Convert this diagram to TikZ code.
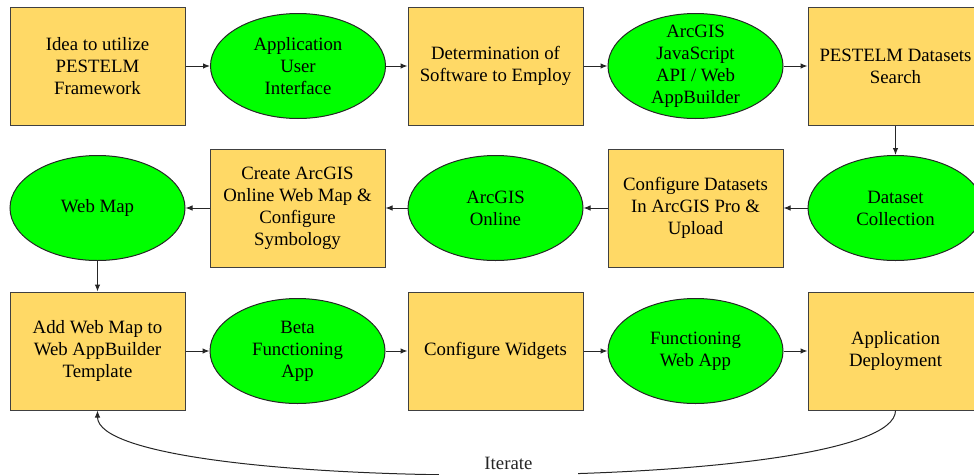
\documentclass[tikz,border=0pt]{standalone}
\usepackage{fontspec}
\setmainfont{Liberation Serif}
\usetikzlibrary{shapes.geometric, arrows.meta}

\definecolor{boxyellow}{HTML}{FFD966}
\definecolor{ellgreen}{HTML}{00FF00}
\newcommand{\flowfont}{\fontsize{18.8}{22}\selectfont}

\tikzset{
    stepbox/.style={draw=black!75, fill=boxyellow, line width=1pt,
        minimum width=175pt, minimum height=118pt, inner sep=0pt,
        align=center, font=\flowfont},
    stepell/.style={ellipse, draw=black!85, fill=ellgreen, line width=1pt,
        minimum width=175pt, minimum height=105pt, inner sep=0pt},
    elltext/.style={align=center, font=\flowfont, inner sep=0pt},
    flow/.style={->, line width=1pt, black!85}
}

\begin{document}
\begin{tikzpicture}[x=1pt, y=-1pt, >={Latex[length=7pt, width=5.5pt]}]
    % Page size
    \useasboundingbox (0,0) rectangle (974,474);
    \clip (0,0) rectangle (974,474);
    % First row
    \node[stepbox] (idea) at (97.5,66) {Idea to utilize\\PESTELM\\Framework};
    \node[stepell, label={[elltext]center:Application\\User\\Interface}] (ui) at (298,66) {};
    \node[stepbox] (software) at (495.5,66) {Determination of\\Software to Employ};
    \node[stepell, label={[elltext]center:ArcGIS\\JavaScript\\API / Web\\AppBuilder}] (api) at (695.5,66) {};
    \node[stepbox] (search) at (895.5,66) {PESTELM Datasets\\Search};
    % Second row
    \node[stepell, label={[elltext]center:Dataset\\Collection}] (collect) at (895.5,208) {};
    \node[stepbox] (configure) at (695.5,208) {Configure Datasets\\In ArcGIS Pro \&\\Upload};
    \node[stepell, label={[elltext]center:ArcGIS\\Online}] (online) at (495.5,208) {};
    \node[stepbox] (create) at (297.5,208) {Create ArcGIS\\Online Web Map \&\\Configure\\Symbology};
    \node[stepell, label={[elltext]center:Web Map}] (webmap) at (97.5,208) {};
    % Third row
    \node[stepbox] (addmap) at (97.5,351) {Add Web Map to\\Web AppBuilder\\Template};
    \node[stepell, label={[elltext]center:Beta\\Functioning\\App}] (beta) at (297.5,351) {};
    \node[stepbox] (widgets) at (495.5,351) {Configure Widgets};
    \node[stepell, label={[elltext]center:Functioning\\Web App}] (webapp) at (695.5,351) {};
    \node[stepbox] (deploy) at (895.5,351) {Application\\Deployment};
    % Arrows
    \draw[flow] (idea) -- (ui);
    \draw[flow] (ui) -- (software);
    \draw[flow] (software) -- (api);
    \draw[flow] (api) -- (search);
    \draw[flow] (search) -- (collect);
    \draw[flow] (collect) -- (configure);
    \draw[flow] (configure) -- (online);
    \draw[flow] (online) -- (create);
    \draw[flow] (create) -- (webmap);
    \draw[flow] (webmap) -- (addmap);
    \draw[flow] (addmap) -- (beta);
    \draw[flow] (beta) -- (widgets);
    \draw[flow] (widgets) -- (webapp);
    \draw[flow] (webapp) -- (deploy);
    % Loop back
    \draw[flow] (deploy.south) .. controls +(0,85) and +(0,85) .. (addmap.south)
        node[pos=0.49, fill=white, minimum width=139pt, minimum height=30pt,
             yshift=11pt, font=\flowfont] (iterate) {Iterate};
\end{tikzpicture}
\end{document}
